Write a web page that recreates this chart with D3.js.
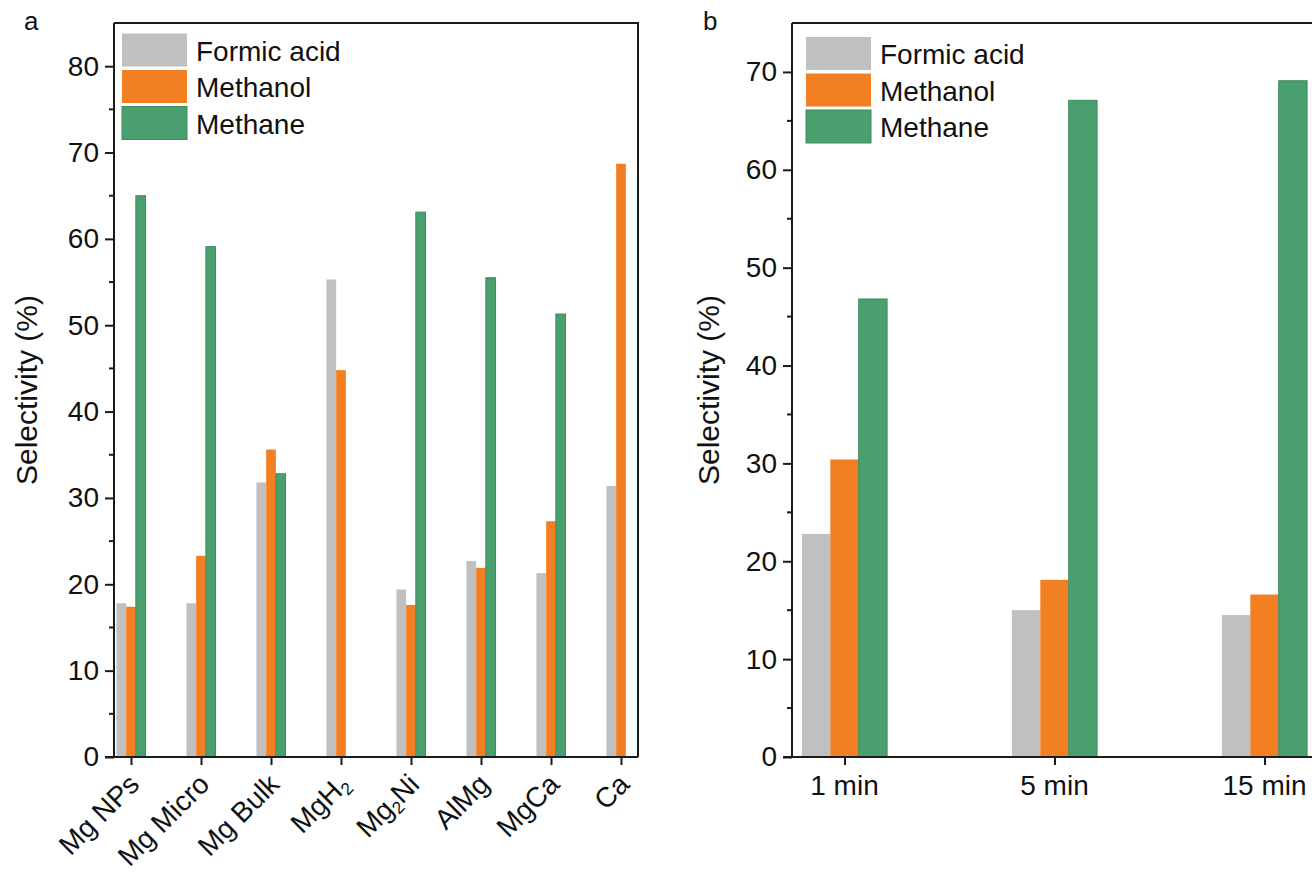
<!DOCTYPE html>
<html>
<head>
<meta charset="utf-8">
<script src="https://cdn.jsdelivr.net/npm/d3@7"></script>
<style>
  body { margin: 0; background: #fff; }
  svg { display: block; }
  text { font-family: "Liberation Sans", Arial, Helvetica, sans-serif; fill: #111; }
</style>
</head>
<body>
<svg id="chart" width="1312" height="879"></svg>
<script>
// ---- data -------------------------------------------------------------
const seriesNames = ["Formic acid", "Methanol", "Methane"];

// panel a: selectivity by material ("_n" marks a subscript)
const categoriesA = ["Mg NPs", "Mg Micro", "Mg Bulk", "MgH_2", "Mg_2Ni", "AlMg", "MgCa", "Ca"];
const formicA   = [17.8, 17.8, 31.8, 55.3, 19.4, 22.7, 21.3, 31.4];
const methanolA = [17.4, 23.3, 35.6, 44.8, 17.6, 21.9, 27.3, 68.7];
const methaneA  = [65.0, 59.1, 32.8, 0.0, 63.1, 55.5, 51.3, 0.0];
const yTicksA   = [0, 10, 20, 30, 40, 50, 60, 70, 80];

// panel b: selectivity by reaction time
const categoriesB = ["1 min", "5 min", "15 min"];
const formicB   = [22.8, 15.0, 14.5];
const methanolB = [30.4, 18.1, 16.6];
const methaneB  = [46.8, 67.1, 69.1];
const yTicksB   = [0, 10, 20, 30, 40, 50, 60, 70];

// ---- style ------------------------------------------------------------
const fills   = ["#c0c0c0", "#f28022", "#49a06e"];
const strokes = ["none", "none", "#3f8a5f"];
const axisColor = "#1a1a1a";
const fontSize = 28;
const titleSize = 30;

const svg = d3.select("#chart");

function labelWithSubscripts(textSel, label) {
  const parts = label.split(/(_\d)/).filter(s => s.length);
  parts.forEach(p => {
    if (p.startsWith("_")) {
      textSel.append("tspan").attr("baseline-shift", "-28%")
        .attr("font-size", fontSize * 0.62).text(p.slice(1));
    } else {
      textSel.append("tspan").text(p);
    }
  });
}

function drawPanel(opt) {
  const g = svg.append("g");
  const y = d3.scaleLinear().domain(opt.yDomain).range([opt.bottom, opt.top]);
  const x = d3.scalePoint().domain(opt.categories).range([opt.left, opt.right]).padding(opt.padding);
  const inner = d3.scaleBand().domain(seriesNames)
    .range([-1.5 * opt.barWidth, 1.5 * opt.barWidth]);

  const rows = opt.categories.map((c, i) => ({
    cat: c,
    vals: opt.series.map((s, k) => ({ name: seriesNames[k], k, v: s[i] }))
  }));

  // bars
  const grp = g.append("g").selectAll("g").data(rows).join("g")
    .attr("transform", d => `translate(${x(d.cat)},0)`);
  grp.selectAll("rect").data(d => d.vals.filter(e => e.v > 0)).join("rect")
    .attr("x", e => inner(e.name))
    .attr("width", inner.bandwidth())
    .attr("y", e => y(e.v))
    .attr("height", e => y(0) - y(e.v))
    .attr("fill", e => fills[e.k])
    .attr("stroke", e => strokes[e.k])
    .attr("stroke-width", 1);

  // frame (top + right)
  g.append("path")
    .attr("d", `M${opt.left},${opt.top}H${opt.right}V${opt.bottom}`)
    .attr("fill", "none").attr("stroke", axisColor).attr("stroke-width", 2);

  // y axis with minor ticks
  const yAxis = d3.axisLeft(y).tickValues(opt.yTicks).tickSize(9).tickPadding(6)
    .tickFormat(d3.format("d"));
  const ya = g.append("g").attr("transform", `translate(${opt.left},0)`).call(yAxis);
  ya.select(".domain").attr("stroke", axisColor).attr("stroke-width", 2)
    .attr("d", `M0,${opt.bottom + 1}V${opt.top}`);
  ya.selectAll(".tick line").attr("stroke", axisColor).attr("stroke-width", 2);
  ya.selectAll(".tick text").attr("font-size", fontSize).attr("font-family", null);
  const minors = d3.range(5, opt.yDomain[1], 10);
  ya.selectAll(".minor").data(minors).join("line").attr("class", "minor")
    .attr("x1", -5).attr("x2", 0)
    .attr("y1", d => y(d)).attr("y2", d => y(d))
    .attr("stroke", axisColor).attr("stroke-width", 2);

  // x axis
  const xAxis = d3.axisBottom(x).tickSize(8).tickFormat("");
  const xa = g.append("g").attr("transform", `translate(0,${opt.bottom})`).call(xAxis);
  xa.select(".domain").attr("stroke", axisColor).attr("stroke-width", 2)
    .attr("d", `M${opt.left - 9},0H${opt.right}`);
  xa.selectAll(".tick line").attr("stroke", axisColor).attr("stroke-width", 2);

  // category labels
  opt.categories.forEach(c => {
    const t = g.append("text").attr("font-size", fontSize);
    if (opt.rotate) {
      t.attr("text-anchor", "end")
        .attr("transform", `translate(${x(c) + opt.labelDx},${opt.bottom + opt.labelDy}) rotate(-45)`);
    } else {
      t.attr("text-anchor", "middle")
        .attr("x", x(c)).attr("y", opt.bottom + opt.labelDy);
    }
    labelWithSubscripts(t, c);
  });

  // axis title
  g.append("text").attr("font-size", titleSize).attr("text-anchor", "middle")
    .attr("transform", `translate(${opt.titleX},${(opt.top + opt.bottom) / 2}) rotate(-90)`)
    .text("Selectivity (%)");

  // panel letter
  g.append("text").attr("font-size", 26).attr("x", opt.letterX).attr("y", 30).text(opt.letter);

  // legend
  const lg = g.append("g").attr("transform", `translate(${opt.legendX},${opt.legendY})`);
  seriesNames.forEach((name, k) => {
    lg.append("rect").attr("x", 0).attr("y", k * 36.5).attr("width", 65).attr("height", 33)
      .attr("fill", fills[k]).attr("stroke", strokes[k]).attr("stroke-width", 1);
    lg.append("text").attr("x", 74).attr("y", k * 36.5 + 27)
      .attr("font-size", fontSize).text(name);
  });
}

drawPanel({
  categories: categoriesA, series: [formicA, methanolA, methaneA],
  yDomain: [0, 85], yTicks: yTicksA,
  left: 114, right: 638, top: 23, bottom: 757, padding: 0.243, barWidth: 9.7,
  rotate: true, labelDx: 10, labelDy: 29,
  titleX: 37, letter: "a", letterX: 24,
  legendX: 122, legendY: 33.5
});

drawPanel({
  categories: categoriesB, series: [formicB, methanolB, methaneB],
  yDomain: [0, 75], yTicks: yTicksB,
  left: 792, right: 1317, top: 23, bottom: 757, padding: 0.25, barWidth: 28.4,
  rotate: false, labelDy: 38,
  titleX: 719, letter: "b", letterX: 703,
  legendX: 806, legendY: 37
});
</script>
</body>
</html>
